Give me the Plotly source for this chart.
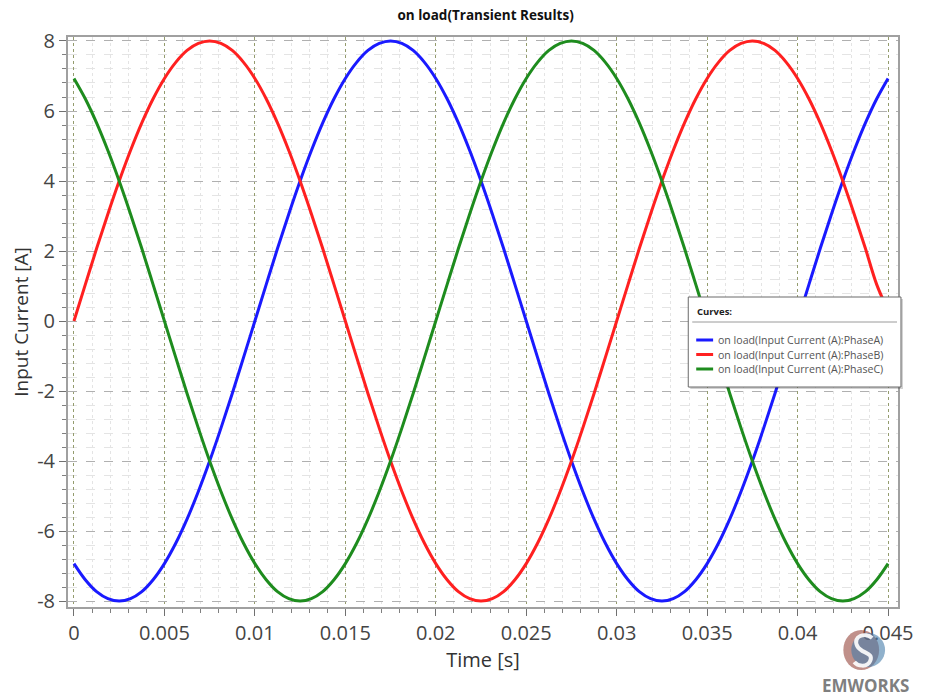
import plotly.graph_objects as go

# Time samples [s]
time_s = [0.0, 0.000625, 0.00125, 0.001875, 0.0025, 0.003125, 0.00375, 0.004375,
          0.005, 0.005625, 0.00625, 0.006875, 0.0075, 0.008125, 0.00875, 0.009375,
          0.01, 0.010625, 0.01125, 0.011875, 0.0125, 0.013125, 0.01375, 0.014375,
          0.015, 0.015625, 0.01625, 0.016875, 0.0175, 0.018125, 0.01875, 0.019375,
          0.02, 0.020625, 0.02125, 0.021875, 0.0225, 0.023125, 0.02375, 0.024375,
          0.025, 0.025625, 0.02625, 0.026875, 0.0275, 0.028125, 0.02875, 0.029375,
          0.03, 0.030625, 0.03125, 0.031875, 0.0325, 0.033125, 0.03375, 0.034375,
          0.035, 0.035625, 0.03625, 0.036875, 0.0375, 0.038125, 0.03875, 0.039375,
          0.04, 0.040625, 0.04125, 0.041875, 0.0425, 0.043125, 0.04375, 0.044375,
          0.045]

# Input current [A]
phase_a = [-6.93, -7.39, -7.73, -7.93, -8.0, -7.93, -7.73, -7.39,
           -6.93, -6.35, -5.66, -4.87, -4.0, -3.06, -2.07, -1.04,
           0.0, 1.04, 2.07, 3.06, 4.0, 4.87, 5.66, 6.35,
           6.93, 7.39, 7.73, 7.93, 8.0, 7.93, 7.73, 7.39,
           6.93, 6.35, 5.66, 4.87, 4.0, 3.06, 2.07, 1.04,
           0.0, -1.04, -2.07, -3.06, -4.0, -4.87, -5.66, -6.35,
           -6.93, -7.39, -7.73, -7.93, -8.0, -7.93, -7.73, -7.39,
           -6.93, -6.35, -5.66, -4.87, -4.0, -3.06, -2.07, -1.04,
           0.0, 1.04, 2.07, 3.06, 4.0, 4.87, 5.66, 6.35,
           6.93]
phase_b = [0.0, 1.04, 2.07, 3.06, 4.0, 4.87, 5.66, 6.35,
           6.93, 7.39, 7.73, 7.93, 8.0, 7.93, 7.73, 7.39,
           6.93, 6.35, 5.66, 4.87, 4.0, 3.06, 2.07, 1.04,
           0.0, -1.04, -2.07, -3.06, -4.0, -4.87, -5.66, -6.35,
           -6.93, -7.39, -7.73, -7.93, -8.0, -7.93, -7.73, -7.39,
           -6.93, -6.35, -5.66, -4.87, -4.0, -3.06, -2.07, -1.04,
           0.0, 1.04, 2.07, 3.06, 4.0, 4.87, 5.66, 6.35,
           6.93, 7.39, 7.73, 7.93, 8.0, 7.93, 7.73, 7.39,
           6.93, 6.35, 5.66, 4.87, 4.0, 3.06, 2.07, 1.04,
           0.3]
phase_c = [6.93, 6.35, 5.66, 4.87, 4.0, 3.06, 2.07, 1.04,
           0.0, -1.04, -2.07, -3.06, -4.0, -4.87, -5.66, -6.35,
           -6.93, -7.39, -7.73, -7.93, -8.0, -7.93, -7.73, -7.39,
           -6.93, -6.35, -5.66, -4.87, -4.0, -3.06, -2.07, -1.04,
           0.0, 1.04, 2.07, 3.06, 4.0, 4.87, 5.66, 6.35,
           6.93, 7.39, 7.73, 7.93, 8.0, 7.93, 7.73, 7.39,
           6.93, 6.35, 5.66, 4.87, 4.0, 3.06, 2.07, 1.04,
           0.0, -1.04, -2.07, -3.06, -4.0, -4.87, -5.66, -6.35,
           -6.93, -7.39, -7.73, -7.93, -8.0, -7.93, -7.73, -7.39,
           -6.93]

series_names = ["on load(Input Current (A):PhaseA)",
                "on load(Input Current (A):PhaseB)",
                "on load(Input Current (A):PhaseC)"]
series_colors = ["#1a1aff", "#ff2020", "#1e8c1e"]

x_ticks = [0, 0.005, 0.01, 0.015, 0.02, 0.025, 0.03, 0.035, 0.04, 0.045]
x_ticklabels = ["0", "0.005", "0.01", "0.015", "0.02", "0.025", "0.03", "0.035", "0.04", "0.045"]
y_ticks = [-8, -6, -4, -2, 0, 2, 4, 6, 8]
y_ticklabels = ["-8", "-6", "-4", "-2", "0", "2", "4", "6", "8"]

FONT = "Open Sans"

# plot-area geometry in pixels (for placing the hand-made legend box and logo)
L, R, T, B = 68, 903, 37, 607
def px(x):
    return (x - L) / (R - L)
def py(y):
    return (B - y) / (B - T)

fig = go.Figure()
for vals, name, col in zip([phase_a, phase_b, phase_c], series_names, series_colors):
    fig.add_trace(go.Scatter(x=time_s, y=vals, mode="lines", name=name, showlegend=False,
                             line=dict(color=col, width=3, shape="spline", smoothing=1)))

fig.update_layout(
    width=925, height=697,
    margin=dict(l=L, r=925 - R, t=T, b=697 - B),
    paper_bgcolor="white", plot_bgcolor="white",
    font=dict(family=FONT, color="#333333"),
    title=dict(text="<b>on load(Transient Results)</b>", x=0.525, xanchor="center",
               y=0.978, yanchor="middle", font=dict(size=13.5, color="#111111", family=FONT)),
    showlegend=False,
    xaxis=dict(range=[-0.00033, 0.04555], tickvals=x_ticks, ticktext=x_ticklabels,
               showgrid=True, gridcolor="#949c6e", griddash="dot", gridwidth=1,
               showline=True, mirror=True, linecolor="#a0a0a0", linewidth=2,
               ticks="outside", ticklen=7, tickcolor="#707070",
               tickfont=dict(size=20, color="#444444"),
               minor=dict(dtick=0.001, tick0=0, showgrid=True, gridcolor="#e4e4e4",
                          ticks="outside", ticklen=4, tickcolor="#808080"),
               zeroline=False,
               title=dict(text="Time [s]", font=dict(size=20, color="#333333"), standoff=6)),
    yaxis=dict(range=[-8.17, 8.114], tickvals=y_ticks, ticktext=y_ticklabels,
               showgrid=True, gridcolor="#b0b0b0", griddash="dash", gridwidth=1,
               showline=True, mirror=True, linecolor="#a0a0a0", linewidth=2,
               ticks="outside", ticklen=7, tickcolor="#707070",
               tickfont=dict(size=20, color="#444444"),
               minor=dict(dtick=0.4, tick0=-8, showgrid=True, gridcolor="#e4e4e4",
                          ticks="outside", ticklen=4, tickcolor="#808080"),
               zeroline=False,
               title=dict(text="Input Current [A]", font=dict(size=19, color="#333333"), standoff=3)),
)

# hand-made legend box ("Curves:")
fig.add_shape(type="rect", xref="paper", yref="paper", x0=px(694), x1=px(908), y0=py(389), y1=py(299),
              fillcolor="rgba(0,0,0,0.18)", line=dict(width=0))
fig.add_shape(type="rect", xref="paper", yref="paper", x0=px(692), x1=px(906), y0=py(387), y1=py(297),
              fillcolor="white", line=dict(color="#6a6a6a", width=1))
fig.add_shape(type="line", xref="paper", yref="paper", x0=px(696), x1=px(902), y0=py(322), y1=py(322),
              line=dict(color="#9a9a9a", width=1))
fig.add_annotation(text="<b>Curves:</b>", xref="paper", yref="paper", x=px(699), y=py(312),
                   xanchor="left", yanchor="middle", showarrow=False,
                   font=dict(size=9.5, color="#222222", family=FONT))
for i, (name, col) in enumerate(zip(series_names, series_colors)):
    yy = 340 + 14.5 * i
    fig.add_shape(type="line", xref="paper", yref="paper", x0=px(700), x1=px(717), y0=py(yy), y1=py(yy),
                  line=dict(color=col, width=3))
    fig.add_annotation(text=name, xref="paper", yref="paper", x=px(720), y=py(yy),
                       xanchor="left", yanchor="middle", showarrow=False,
                       font=dict(size=10.6, color="#555555", family=FONT))

# EMWORKS logo approximation (shapes only)
fig.add_shape(type="circle", xref="paper", yref="paper", x0=px(848), x1=px(884), y0=py(670), y1=py(630),
              fillcolor="rgba(150,70,60,0.6)", line=dict(width=0))
fig.add_shape(type="circle", xref="paper", yref="paper", x0=px(856), x1=px(890), y0=py(667), y1=py(633),
              fillcolor="rgba(70,125,170,0.6)", line=dict(width=0))
s_path = (f"M {px(877)},{py(638)} C {px(870)},{py(632)} {px(857)},{py(636)} {px(862)},{py(646)} "
          f"C {px(866)},{py(654)} {px(879)},{py(652)} {px(875)},{py(661)} "
          f"C {px(872)},{py(668)} {px(862)},{py(666)} {px(859)},{py(662)}")
fig.add_shape(type="path", xref="paper", yref="paper", path=s_path,
              line=dict(color="rgba(255,255,255,0.9)", width=4))
fig.add_annotation(text="<b>EMWORKS</b>", xref="paper", yref="paper", x=px(870), y=py(685),
                   xanchor="center", yanchor="middle", showarrow=False,
                   font=dict(size=17, color="#7f7f7f", family=FONT))

fig.write_html("out.html")
